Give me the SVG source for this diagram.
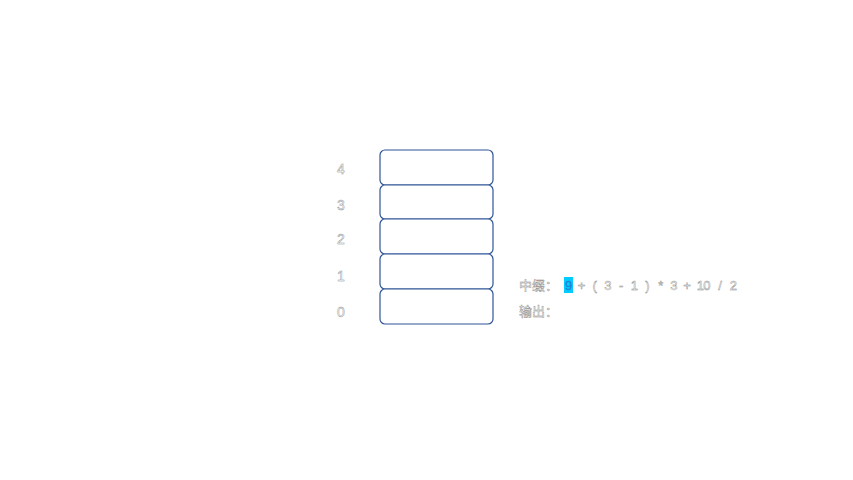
<svg xmlns="http://www.w3.org/2000/svg" width="853" height="480" viewBox="0 0 853 480">
<style>
.cell{fill:#fff;stroke:#2F5597;stroke-width:1.2}
.t{font-family:"Liberation Sans","Noto Sans CJK SC",sans-serif;font-size:13px;fill:#fff;stroke:#8c8c8c;stroke-width:0.45}
.idx{text-anchor:middle;font-size:14px}
.e{text-anchor:middle}
</style>
<rect width="853" height="480" fill="#fff"/>
<g id="stack">
<g id="cell4"><rect class="cell" x="380" y="150" width="113" height="35" rx="5"/><text class="t idx" x="341" y="174">4</text></g>
<g id="cell3"><rect class="cell" x="380" y="185" width="113" height="34" rx="5"/><text class="t idx" x="341" y="210">3</text></g>
<g id="cell2"><rect class="cell" x="380" y="219" width="113" height="35" rx="5"/><text class="t idx" x="341" y="244">2</text></g>
<g id="cell1"><rect class="cell" x="380" y="254" width="113" height="35" rx="5"/><text class="t idx" x="341" y="281">1</text></g>
<g id="cell0"><rect class="cell" x="380" y="289" width="113" height="35" rx="5"/><text class="t idx" x="341" y="317">0</text></g>
</g>
<g id="connectors"></g>
<g id="expr">
<rect x="564" y="277" width="9" height="16" fill="#00CCFF"/>
<text class="t" x="519" y="290">中缀：</text>
<text class="t e" y="290" x="568.5" style="fill:#2A7FD4;stroke:#2A7FD4;stroke-width:0.3">9</text>
<text class="t e" y="290" x="581.5 594.7 607.9 621.1 634.3 647.5 660.7 673.9 687.1 700.3 706.9 720.1 733.3">+(3-1)*3+10/2</text>
<text class="t" x="519" y="316">输出：</text>
</g>
</svg>
